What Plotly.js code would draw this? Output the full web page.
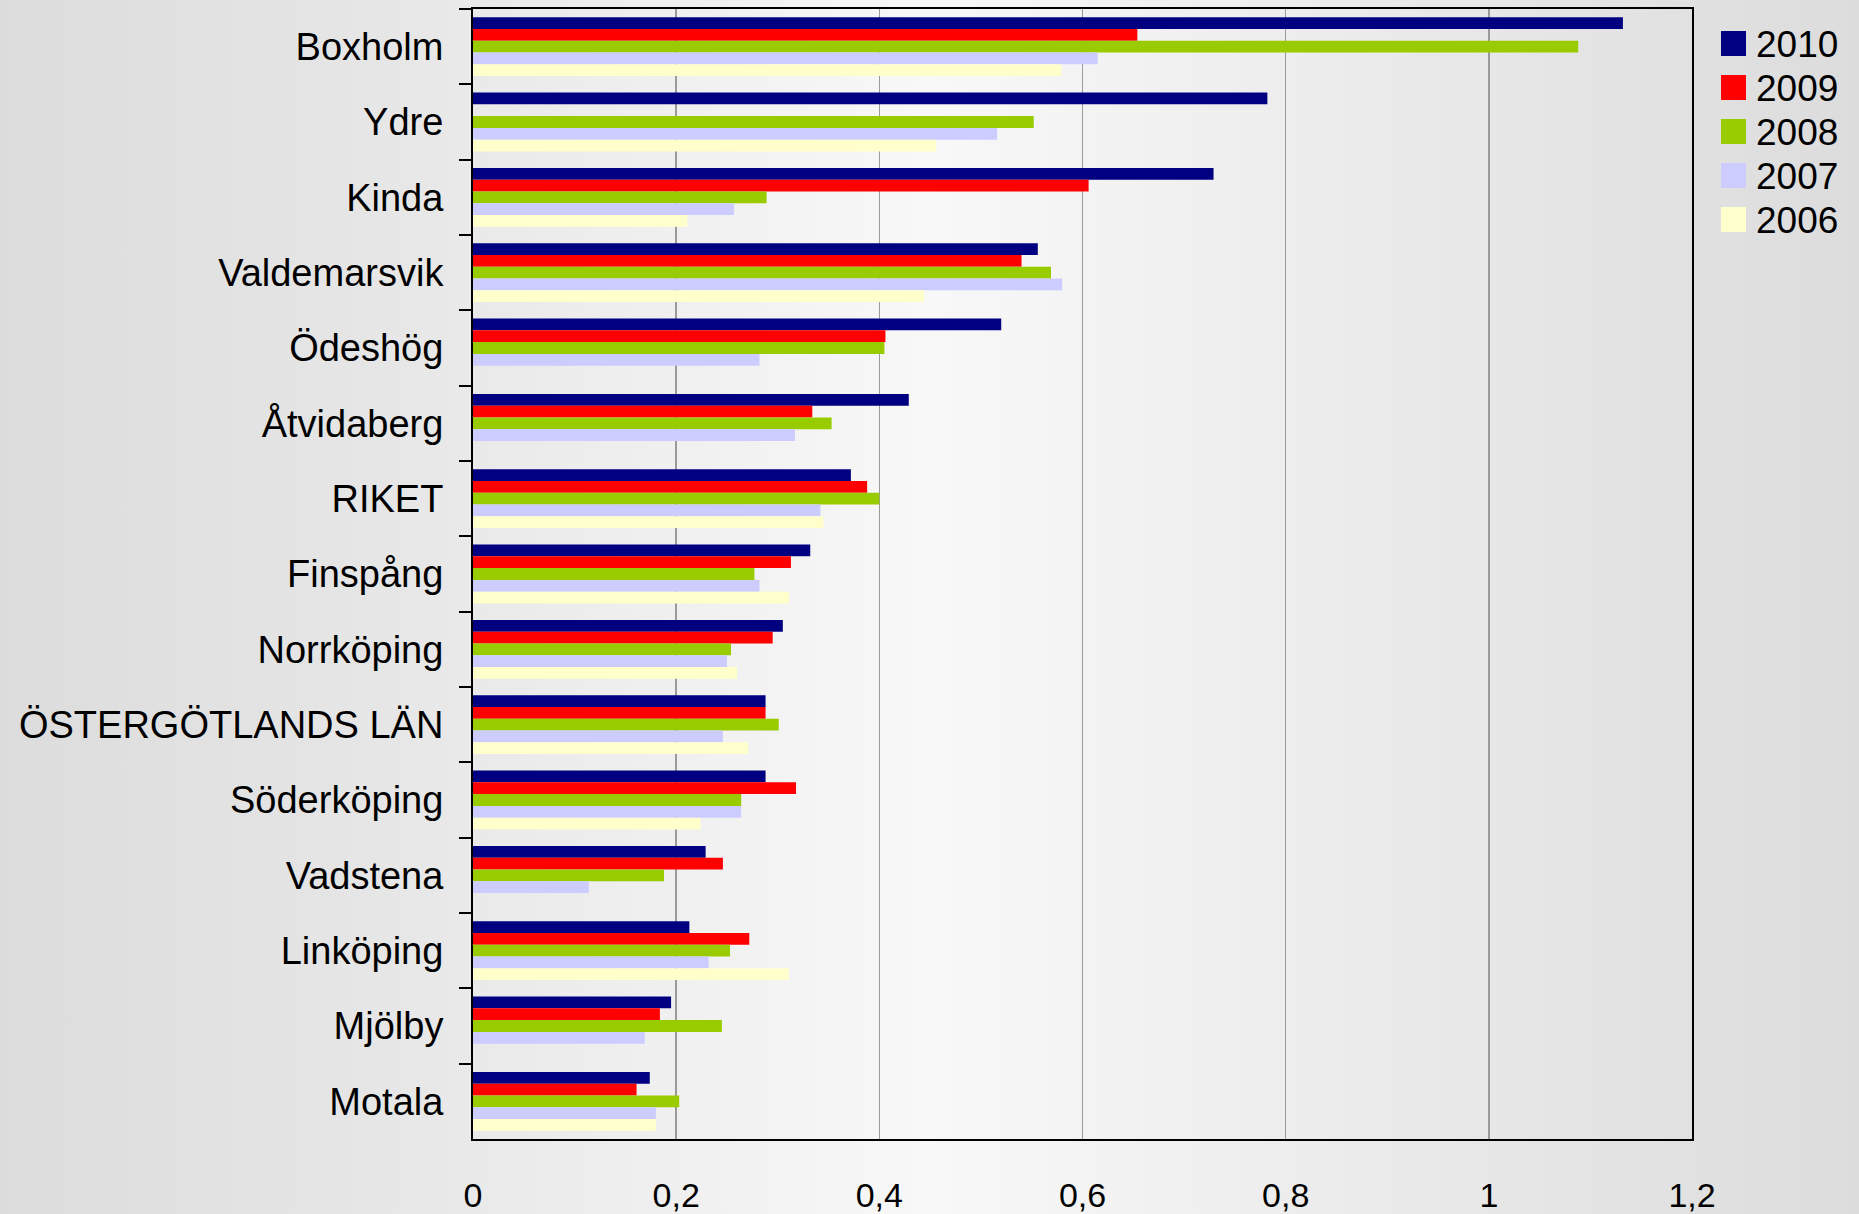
<!DOCTYPE html>
<html>
<head>
<meta charset="utf-8">
<script src="https://cdn.plot.ly/plotly-3.0.1.min.js"></script>
<style>
  html, body { margin: 0; padding: 0; }
  body { width: 1859px; height: 1214px; overflow: hidden;
    background: linear-gradient(to right, #dcdcdc 0%, #e6e6e6 20%, #f8f8f8 50%, #e8e8e8 78%, #dcdcdc 100%); }
  #chart { width: 1859px; height: 1214px; }
</style>
</head>
<body>
<div id="chart"></div>
<script>
const categories = ["Boxholm", "Ydre", "Kinda", "Valdemarsvik", "Ödeshög", "Åtvidaberg", "RIKET", "Finspång", "Norrköping", "ÖSTERGÖTLANDS LÄN", "Söderköping", "Vadstena", "Linköping", "Mjölby", "Motala"];
const years = ["2010", "2009", "2008", "2007", "2006"];
const colors = ["#000080", "#ff0000", "#99cc00", "#ccccff", "#ffffcc"];
const v2010 = [1.132, 0.782, 0.729, 0.556, 0.520, 0.429, 0.372, 0.332, 0.305, 0.288, 0.288, 0.229, 0.213, 0.195, 0.174];
const v2009 = [0.654, null, 0.606, 0.540, 0.406, 0.334, 0.388, 0.313, 0.295, 0.288, 0.318, 0.246, 0.272, 0.184, 0.161];
const v2008 = [1.088, 0.552, 0.289, 0.569, 0.405, 0.353, 0.400, 0.277, 0.254, 0.301, 0.264, 0.188, 0.253, 0.245, 0.203];
const v2007 = [0.615, 0.516, 0.257, 0.580, 0.282, 0.317, 0.342, 0.282, 0.250, 0.246, 0.264, 0.114, 0.232, 0.169, 0.180];
const v2006 = [0.579, 0.456, 0.211, 0.444, null, null, 0.345, 0.311, 0.260, 0.271, 0.224, null, 0.311, null, 0.180];
const xTicks = [0, 0.2, 0.4, 0.6, 0.8, 1, 1.2];

const series = [v2010, v2009, v2008, v2007, v2006];
const font = "Liberation Sans, Arial, sans-serif";

const W = 1859, H = 1214;
const M = { l: 473, r: 167, t: 9, b: 75 };
const plotW = W - M.l - M.r, plotH = H - M.t - M.b;

const traces = series.map((vals, i) => ({
  type: "bar", orientation: "h",
  x: vals, y: categories, name: years[i],
  marker: { color: colors[i], line: { width: 0 } },
  hoverinfo: "x+y+name"
}));

// Legend (squares + labels) built from the years/colors arrays, placed in the right margin
const legLeftPx = 1721, legTopPx = 43.5, legStepPx = 44, sw = 25;
const toPX = px => (px - M.l) / plotW;
const toPY = py => 1 - (py - M.t) / plotH;
const shapes = [], annotations = [];
years.forEach((yr, i) => {
  const cy = legTopPx + i * legStepPx;
  shapes.push({
    type: "rect", xref: "paper", yref: "paper",
    x0: toPX(legLeftPx), x1: toPX(legLeftPx + sw),
    y0: toPY(cy - sw / 2), y1: toPY(cy + sw / 2),
    fillcolor: colors[i], line: { width: 0 }
  });
  annotations.push({
    xref: "paper", yref: "paper", x: toPX(legLeftPx + sw + 8), y: toPY(cy + 1),
    xanchor: "left", yanchor: "middle", showarrow: false,
    text: yr, font: { family: font, size: 37, color: "#000000" }
  });
});

const layout = {
  width: W, height: H,
  paper_bgcolor: "rgba(0,0,0,0)", plot_bgcolor: "rgba(0,0,0,0)",
  margin: { l: M.l, r: M.r, t: M.t, b: M.b, pad: 0 },
  separators: ", ",
  barmode: "group", bargap: 0.22, bargroupgap: 0,
  font: { family: font, color: "#000000" },
  showlegend: false,
  shapes: shapes,
  annotations: annotations,
  xaxis: {
    range: [0, 1.2], tickvals: xTicks, ticks: "",
    showgrid: true, gridcolor: "#9a9a9a", gridwidth: 1.5,
    showline: true, linecolor: "#000000", linewidth: 2, mirror: true,
    zeroline: false,
    tickfont: { family: font, size: 34, color: "#000000" },
    ticklabelstandoff: 25,
    fixedrange: true
  },
  yaxis: {
    type: "category", autorange: "reversed",
    ticks: "outside", tickson: "boundaries", ticklen: 12, tickwidth: 2, tickcolor: "#000000",
    showline: true, linecolor: "#000000", linewidth: 2, mirror: true,
    showgrid: false, zeroline: false,
    tickfont: { family: font, size: 38, color: "#000000" },
    ticklabelstandoff: 20,
    fixedrange: true
  }
};

Plotly.newPlot("chart", traces, layout, { displayModeBar: false, staticPlot: true });
</script>
</body>
</html>
